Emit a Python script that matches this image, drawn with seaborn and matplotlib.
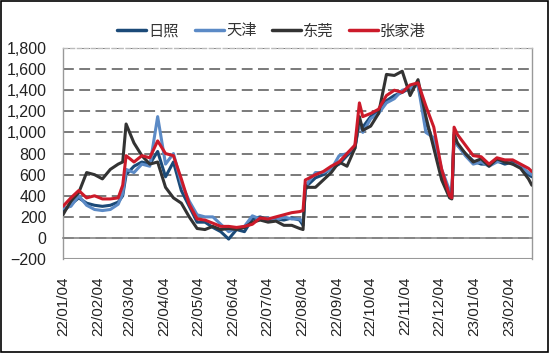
import pandas as pd
import matplotlib.pyplot as plt
import matplotlib.dates as mdates
from matplotlib.ticker import MultipleLocator, FuncFormatter
import seaborn as sns

# --- Data ---
dates = ["2022-01-04", "2022-01-11", "2022-01-18", "2022-01-25", "2022-02-01", "2022-02-08",
         "2022-02-15", "2022-02-22", "2022-02-26", "2022-03-01", "2022-03-08", "2022-03-15",
         "2022-03-22", "2022-03-29", "2022-04-05", "2022-04-12", "2022-04-19", "2022-04-26",
         "2022-05-03", "2022-05-10", "2022-05-17", "2022-05-24", "2022-05-31", "2022-06-07",
         "2022-06-14", "2022-06-21", "2022-06-28", "2022-07-05", "2022-07-12", "2022-07-19",
         "2022-07-26", "2022-08-02", "2022-08-05", "2022-08-07", "2022-08-09", "2022-08-16",
         "2022-08-23", "2022-08-30", "2022-09-06", "2022-09-13", "2022-09-20", "2022-09-24",
         "2022-09-27", "2022-10-04", "2022-10-11", "2022-10-18", "2022-10-25", "2022-11-01",
         "2022-11-08", "2022-11-15", "2022-11-22", "2022-11-29", "2022-12-06", "2022-12-13",
         "2022-12-15", "2022-12-17", "2022-12-20", "2022-12-27", "2023-01-03", "2023-01-10",
         "2023-01-17", "2023-01-24", "2023-01-31", "2023-02-07", "2023-02-14", "2023-02-21",
         "2023-02-24"]

rizhao = [250, 320, 380, 330, 310, 300, 310, 340, 400, 600, 680, 720,
          700, 820, 580, 720, 450, 300, 150, 150, 100, 60, -10, 80,
          60, 180, 200, 170, 180, 170, 190, 170, 120, 450, 500, 570,
          600, 660, 700, 780, 850, 1100, 1050, 1150, 1200, 1300, 1350, 1380,
          1420, 1450, 1100, 900, 600, 420, 400, 950, 880, 800, 730, 700,
          700, 730, 700, 720, 680, 600, 580]

tianjin = [280, 300, 400, 310, 270, 260, 270, 320, 420, 650, 620, 700,
           680, 1150, 700, 800, 520, 350, 220, 200, 200, 130, 60, 90,
           110, 210, 180, 190, 170, 200, 180, 180, 150, 460, 520, 620,
           620, 650, 780, 800, 870, 1100, 1000, 1130, 1180, 1280, 1320, 1400,
           1420, 1450, 1000, 950, 650, 450, 420, 1000, 880, 780, 700, 720,
           680, 720, 730, 700, 680, 620, 600]

dongguan = [220, 350, 430, 620, 600, 560, 650, 700, 720, 1080, 900, 780,
            700, 720, 480, 380, 330, 200, 90, 80, 110, 80, 90, 80,
            100, 150, 170, 150, 160, 120, 120, 90, 80, 500, 480, 480,
            550, 620, 720, 680, 850, 1150, 1020, 1060, 1180, 1550, 1540, 1580,
            1350, 1500, 1150, 850, 550, 380, 370, 980, 900, 800, 720, 750,
            680, 750, 720, 700, 660, 560, 500]

zhangjiagang = [300, 380, 450, 380, 400, 370, 370, 380, 500, 780, 720, 780,
                760, 920, 800, 780, 560, 320, 180, 170, 140, 110, 110, 100,
                110, 130, 190, 180, 200, 220, 240, 250, 260, 550, 560, 600,
                630, 680, 720, 800, 880, 1280, 1150, 1180, 1220, 1350, 1400, 1380,
                1450, 1470, 1250, 1050, 650, 400, 380, 1050, 980, 880, 780, 770,
                700, 760, 740, 740, 700, 660, 630]

series_names = ["日照", "天津", "东莞", "张家港"]
colors = ["#1b4a78", "#5b8ac6", "#333333", "#cc1a2a"]

df = pd.DataFrame({"Date": pd.to_datetime(dates),
                   "日照": rizhao, "天津": tianjin, "东莞": dongguan, "张家港": zhangjiagang})
long_df = df.melt(id_vars="Date", var_name="Port", value_name="Value")

# --- Plot ---
sns.set_style("white")
plt.rcParams['font.family'] = ['Liberation Sans', 'Noto Sans CJK SC', 'DejaVu Sans']

fig = plt.figure(figsize=(5.5, 3.53), dpi=100)
ax = fig.add_axes([0.1145, 0.266, 0.8525, 0.598])

sns.lineplot(data=long_df, x="Date", y="Value", hue="Port", hue_order=series_names,
             palette=colors, linewidth=2.2, ax=ax, zorder=3)

ax.set_ylim(-200, 1800)
ax.set_xlim(pd.Timestamp("2022-01-04"), pd.Timestamp("2023-02-24"))
ax.yaxis.set_major_locator(MultipleLocator(200))
ax.yaxis.set_minor_locator(MultipleLocator(40))
ax.yaxis.set_major_formatter(FuncFormatter(lambda v, p: f"{int(v):,}".replace("-", "\u2212")))
ax.xaxis.set_major_locator(mdates.MonthLocator(bymonthday=4))
ax.xaxis.set_major_formatter(mdates.DateFormatter("%y/%m/%d"))

# dashed horizontal gridlines
ax.yaxis.grid(True, linestyle=(0, (6, 3)), color="#707070", linewidth=1.3, zorder=1)
ax.set_axisbelow(True)

# x axis sits on the zero line, labels below the frame
for s in ["top", "right", "left"]:
    ax.spines[s].set_color("#999999")
    ax.spines[s].set_linewidth(1)
ax.spines["top"].set_linestyle((0, (3, 2)))
ax.spines["top"].set_color("#bbbbbb")
ax.spines["bottom"].set_position(("data", 0))
ax.spines["bottom"].set_color("#888888")
ax.spines["bottom"].set_linewidth(1.2)
ax.axhline(-200, color="#999999", linewidth=1.5, zorder=2)

ax.tick_params(axis="x", direction="out", length=3, color="#888888", pad=25,
               labelsize=11, labelrotation=90, labelcolor="#222222")
ax.tick_params(axis="y", which="major", direction="out", length=4, color="#999999",
               labelsize=11.5, labelcolor="#222222", pad=8)
ax.tick_params(axis="y", which="minor", direction="out", length=2.5, color="#999999")
ax.set_xlabel("")
ax.set_ylabel("")

leg = ax.legend(loc="center", bbox_to_anchor=(0.445, 1.08), ncol=4, frameon=False,
                fontsize=11, handlelength=1.9, columnspacing=1.0, handletextpad=0.15)
for line in leg.get_lines():
    line.set_linewidth(2.5)
for t in leg.get_texts():
    t.set_color("#333333")

# outer frame
fig.patches.append(plt.Rectangle((0.002, 0.003), 0.995, 0.994, transform=fig.transFigure,
                                 fill=False, edgecolor="black", linewidth=1.2))

plt.savefig("out.png", dpi=100)
